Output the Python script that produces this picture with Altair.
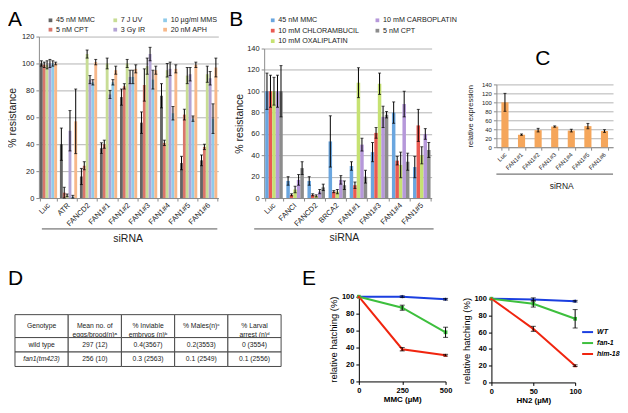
import altair as alt
import pandas as pd

FONT = "Liberation Sans"
TXT = "#222222"
GRID = "#b4b4b4"
AXC = "#8c8c8c"

# ---------------- Panel A ----------------
a_groups = ["Luc", "ATR", "FANCD2", "FAN1#1", "FAN1#2", "FAN1#3", "FAN1#4", "FAN1#5", "FAN1#6"]
a_series = ["45 nM MMC", "5 nM CPT", "7 J UV", "3 Gy IR", "10 µg/ml MMS", "20 nM APH"]
a_colors = ["#646464", "#d9776c", "#c8dd95", "#b3a3d5", "#8fcbea", "#f7b88a"]
a_mmc = [100, 40, 16, 37, 75, 56, 76, 26, 28]
a_mmc_err = [2, 12, 6, 4, 6, 8, 9, 5, 4]
a_cpt = [99, 4, 24, 40, 83, 84, 41, 62, 38]
a_cpt_err = [2, 4, 3, 3, 2, 12, 2, 4, 2]
a_uv = [99, 2, 107, 100, 100, 98, 95, 91, 92]
a_uv_err = [3, 1, 3, 4, 3, 6, 5, 6, 6]
a_ir = [100, 50, 88, 77, 90, 107, 96, 92, 89]
a_ir_err = [3, 15, 3, 3, 5, 5, 5, 5, 5]
a_mms = [100, 1, 86, 86, 90, 88, 63, 59, 59]
a_mms_err = [2, 1, 2, 2, 5, 7, 5, 2, 11]
a_aph = [100, 57, 101, 95, 96, 95, 96, 99, 97]
a_aph_err = [1, 24, 2, 3, 3, 3, 3, 2, 7]

# ---------------- Panel B ----------------
b_groups = ["Luc", "FANCI", "FANCD2", "BRCA2", "FAN1#1", "FAN1#3", "FAN1#4", "FAN1#5"]
b_series = ["45 nM MMC", "10 mM CHLORAMBUCIL", "10 mM OXALIPLATIN", "10 mM CARBOPLATIN", "5 nM CPT"]
b_colors = ["#6aa6df", "#ea5a52", "#c6e272", "#b698da", "#8c8c8c"]
b_mmc = [100, 16, 16, 53, 30, 43, 80, 29]
b_mmc_err = [17, 4, 4, 24, 4, 9, 10, 10]
b_chl = [100, 3, 3, 6, 12, 61, 35, 68]
b_chl_err = [15, 1, 1, 1, 3, 5, 4, 15]
b_oxa = [100, 8, 2, 6, 108, 107, 31, 40]
b_oxa_err = [13, 3, 1, 2, 14, 10, 12, 8]
b_carbo = [100, 17, 6, 17, 50, 76, 88, 60]
b_carbo_err = [15, 5, 2, 4, 6, 10, 12, 5]
b_cpt = [100, 28, 10, 12, 20, 78, 34, 45]
b_cpt_err = [24, 6, 3, 4, 6, 3, 8, 7]

# ---------------- Panel C ----------------
c_groups = ["Luc", "FAN1#1", "FAN1#2", "FAN1#3", "FAN1#4", "FAN1#5", "FAN1#6"]
c_values = [100, 28, 38, 46, 37, 47, 36]
c_errors = [20, 1.5, 4, 1.5, 3, 6, 3]

# ---------------- Panel D ----------------
d_header = ["Genotype", "Mean no. of\neggs/brood(n)ᵃ", "% Inviable\nembryos (n)ᵇ",
            "% Males(n)ᶜ", "% Larval\narrest (n)ᵈ"]
d_rows = ["wild type", "fan1(tm423)"]
d_wild = ["wild type", "297 (12)", "0.4(3567)", "0.2(3553)", "0 (3554)"]
d_fan1 = ["fan1(tm423)", "256 (10)", "0.3 (2563)", "0.1 (2549)", "0.1 (2556)"]

# ---------------- Panel E ----------------
e_strains = ["WT", "fan-1", "him-18"]
e_colors = ["#1b3fe0", "#3dbf3d", "#f0250f"]
e_shapes = ["diamond", "square", "triangle-up"]
e1_dose = [0, 250, 500]
e1_wt = [100, 100, 97]
e1_wt_err = [0, 1, 1]
e1_fan1 = [100, 87, 58]
e1_fan1_err = [0, 3, 6]
e1_him18 = [100, 38, 31]
e1_him18_err = [0, 2, 1]
e2_dose = [0, 50, 100]
e2_wt = [100, 99, 97]
e2_wt_err = [0, 2, 1]
e2_fan1 = [100, 94, 76]
e2_fan1_err = [0, 4, 11]
e2_him18 = [100, 64, 20]
e2_him18_err = [0, 3, 1]


def long_table(groups, series, values, errors):
    rows = []
    for s, vals, errs in zip(series, values, errors):
        for g, v, e in zip(groups, vals, errs):
            rows.append({"group": g, "series": s, "value": v,
                         "lo": max(v - e, 0), "hi": v + e})
    return pd.DataFrame(rows)


def one_row():
    return pd.DataFrame({"k": [0]})


def letter(ch, x, y):
    return alt.Chart(one_row()).mark_text(
        text=ch, fontSize=21, font=FONT, align="left", baseline="alphabetic", color="black"
    ).encode(x=alt.value(x), y=alt.value(y))


def hline(x1, x2, y):
    return alt.Chart(one_row()).mark_rule(color="#555555", strokeWidth=1).encode(
        x=alt.value(x1), x2=alt.value(x2), y=alt.value(y))


def spacer(w, h):
    return alt.Chart(one_row()).mark_point(opacity=0).encode(
        x=alt.X("k:Q", axis=None), y=alt.Y("k:Q", axis=None)
    ).properties(width=w, height=h)


def bar_panel(df, groups, series, color_map, width, height, top, ymax,
              pinner, pouter, legend, ytitle, ytitle_x, ytitle_size, sirna_x, sirna_y,
              label_size, sirna_size, extra_layers):
    x = alt.X("group:N", sort=groups, title="siRNA",
              scale=alt.Scale(paddingInner=pinner, paddingOuter=pouter),
              axis=alt.Axis(labelAngle=-45, labelAlign="right", labelBaseline="middle",
                            labelFontSize=label_size, labelColor=TXT, labelPadding=3,
                            labelOverlap=False, tickBand="extent", tickSize=3,
                            tickColor=AXC, domainColor=AXC,
                            titleFontSize=sirna_size, titleFontWeight="normal",
                            titleColor=TXT, titleX=sirna_x, titleY=sirna_y,
                            titleBaseline="alphabetic"))
    xo = alt.XOffset("series:N", sort=series, scale=alt.Scale(paddingInner=0, paddingOuter=0))

    def yenc(field):
        return alt.Y(field, title=ytitle,
                     scale=alt.Scale(domain=[0, ymax], nice=False, range=[height, top]),
                     axis=alt.Axis(values=list(range(0, ymax + 1, 20)), grid=True,
                                   gridColor=GRID, domainColor=AXC, tickColor=AXC,
                                   tickSize=3, labelPadding=2, labelFontSize=label_size,
                                   labelColor=TXT, titleFontSize=ytitle_size,
                                   titleFontWeight="normal", titleColor=TXT,
                                   titleX=ytitle_x, titleY=(height + top) / 2,
                                   titleBaseline="middle"))

    color = alt.Color("series:N",
                      scale=alt.Scale(domain=series, range=[color_map[s] for s in series]),
                      legend=legend)
    base = alt.Chart(df)
    bars = base.mark_bar().encode(x=x, xOffset=xo, y=yenc("value:Q"), color=color)
    rules = base.mark_rule(color="black", strokeWidth=1).encode(
        x=x, xOffset=xo, y=yenc("lo:Q"), y2=alt.Y2("hi:Q"))
    cap_hi = base.mark_tick(color="black", size=3, thickness=1).encode(
        x=x, xOffset=xo, y=yenc("hi:Q"))
    cap_lo = base.mark_tick(color="black", size=3, thickness=1).encode(
        x=x, xOffset=xo, y=yenc("lo:Q"))
    return alt.layer(bars, rules, cap_hi, cap_lo, *extra_layers).properties(
        width=width, height=height)


def legend_box(x, y, cols, row_pad, col_pad):
    return alt.Legend(orient="none", legendX=x, legendY=y, columns=cols, title=None,
                      symbolType="square", symbolSize=14, symbolStrokeWidth=0,
                      labelFontSize=7.2, labelFont=FONT, labelColor=TXT,
                      rowPadding=row_pad, columnPadding=col_pad, gridAlign="each",
                      labelOffset=2, padding=0)


# Panel A chart
a_df = long_table(a_groups, a_series,
                  [a_mmc, a_cpt, a_uv, a_ir, a_mms, a_aph],
                  [a_mmc_err, a_cpt_err, a_uv_err, a_ir_err, a_mms_err, a_aph_err])
A = bar_panel(a_df, a_groups, a_series, dict(zip(a_series, a_colors)),
              180, 162, 0, 120, 0.14, 0.05, legend_box(8, -20, 3, 1.5, 16), "% resistance",
              -26, 10.5, 89, 44, 7.5, 10.5,
              [letter("A", -31, -11), hline(3, 179, 193)])

# Panel B chart
b_df = long_table(b_groups, b_series,
                  [b_mmc, b_chl, b_oxa, b_carbo, b_cpt],
                  [b_mmc_err, b_chl_err, b_oxa_err, b_carbo_err, b_cpt_err])
B = bar_panel(b_df, b_groups, b_series, dict(zip(b_series, b_colors)),
              168, 162, 12, 140, 0.17, 0.05, legend_box(5, -20, 2, 2.5, 14), "% resistance",
              -25, 10.5, 80, 43, 7.5, 10.5,
              [letter("B", -35, -11), hline(-10, 170, 193)])

# Panel C chart
c_df = long_table(c_groups, ["expr"], [c_values], [c_errors])
C = bar_panel(c_df, c_groups, ["expr"], {"expr": "#f5a65b"},
              117, 111, 48, 140, 0.57, 0.3, None, "relative expression",
              -26, 7.5, 65, 41, 6, 8.5,
              [letter("C", 39, 29), hline(0, 117, 138)])

# Panel D table
d_head_df = pd.DataFrame({"col": list(range(5)), "txt": d_header, "h": ["head"] * 5})
d_body_rows = []
for ri, (rname, cells) in enumerate(zip(d_rows, [d_wild, d_fan1])):
    for ci, t in enumerate(cells):
        d_body_rows.append({"row": rname, "col": ci, "txt": t,
                            "it": 1 if (ri == 1 and ci == 0) else 0})
d_body_df = pd.DataFrame(d_body_rows)

d_x = alt.X("col:O", axis=None, scale=alt.Scale(paddingInner=0, paddingOuter=0))
d_hy = alt.Y("h:N", axis=None, scale=alt.Scale(range=[18, 41], paddingInner=0, paddingOuter=0))
d_by = alt.Y("row:N", sort=d_rows, axis=None,
             scale=alt.Scale(domain=d_rows, range=[41, 70], paddingInner=0, paddingOuter=0))
d_head_rect = alt.Chart(d_head_df).mark_rect(fill="white", stroke="#4a4a4a", strokeWidth=1).encode(
    x=d_x, y=d_hy)
d_head_txt = alt.Chart(d_head_df).mark_text(fontSize=6.8, font=FONT, color=TXT,
                                             lineBreak="\n", baseline="middle").encode(
    x=d_x, y=d_hy, text="txt:N")
d_body_rect = alt.Chart(d_body_df).mark_rect(fill="white", stroke="#4a4a4a", strokeWidth=1).encode(
    x=d_x, y=d_by)
d_body_txt = alt.Chart(d_body_df).transform_filter("datum.it == 0").mark_text(
    fontSize=6.8, font=FONT, color=TXT, baseline="middle").encode(x=d_x, y=d_by, text="txt:N")
d_body_it = alt.Chart(d_body_df).transform_filter("datum.it == 1").mark_text(
    fontSize=6.8, font=FONT, color=TXT, baseline="middle", fontStyle="italic").encode(
    x=d_x, y=d_by, text="txt:N")
D = alt.layer(d_head_rect, d_head_txt, d_body_rect, d_body_txt, d_body_it,
              letter("D", -7, -12)).resolve_scale(y="independent").properties(width=267, height=70)


# Panel E charts
def e_table(dose, vals, errs):
    rows = []
    for s, v, e in zip(e_strains, vals, errs):
        for d, vv, ee in zip(dose, v, e):
            rows.append({"strain": s, "dose": d, "value": vv,
                         "lo": vv - ee, "hi": vv + ee, "err": ee})
    return pd.DataFrame(rows)


def e_panel(df, dose, width, height, top, xtitle, legend, extra):
    x = alt.X("dose:Q", scale=alt.Scale(domain=[dose[0], dose[-1]], nice=False, zero=False),
              axis=alt.Axis(values=dose, title=xtitle, titleFontWeight="bold", titleFontSize=8,
                            titleColor="black", labelFontWeight="bold", labelFontSize=7.5,
                            labelColor="black", domainColor="black", tickColor="black",
                            tickSize=3, labelPadding=2, titlePadding=2, grid=False,
                            labelFlush=False))

    def yenc(field):
        return alt.Y(field, title="relative hatching (%)",
                     scale=alt.Scale(domain=[0, 100], nice=False, range=[height, top]),
                     axis=alt.Axis(values=[0, 20, 40, 60, 80, 100], grid=False,
                                   labelFontWeight="bold", labelFontSize=7.5,
                                   labelColor="black", domainColor="black",
                                   tickColor="black", tickSize=3, labelPadding=2,
                                   titleFontSize=9.5, titleFontWeight="normal",
                                   titleColor="black", titleX=-25, titleY=(height + top) / 2,
                                   titleBaseline="middle"))

    color = alt.Color("strain:N", scale=alt.Scale(domain=e_strains, range=e_colors),
                      legend=legend)
    base = alt.Chart(df)
    lines = base.mark_line(strokeWidth=2).encode(x=x, y=yenc("value:Q"), color=color)
    layers = [lines]
    for s, c, shp in zip(e_strains, e_colors, e_shapes):
        layers.append(base.transform_filter(alt.datum.strain == s).mark_point(
            filled=True, size=14, opacity=1, shape=shp, color=c).encode(
            x=x, y=yenc("value:Q")))
    errs = base.transform_filter("datum.err > 0").mark_errorbar(
        ticks=True, color="black", thickness=1).encode(
        x=x, y=yenc("lo:Q"), y2=alt.Y2("hi:Q"))
    layers.append(errs)
    return alt.layer(*layers, *extra).properties(width=width, height=height)


e_legend = alt.Legend(orient="none", legendX=90, legendY=29, title=None,
                      symbolType="stroke", symbolSize=120, symbolStrokeWidth=2,
                      labelFontSize=7, labelFontWeight="bold", labelFontStyle="italic",
                      labelColor="black", labelFont=FONT, rowPadding=-1, labelOffset=3,
                      padding=0)

E1 = e_panel(e_table(e1_dose, [e1_wt, e1_fan1, e1_him18], [e1_wt_err, e1_fan1_err, e1_him18_err]),
             e1_dose, 87, 85, 0, "MMC (µM)", None, [letter("E", -57, -12)])
E2 = e_panel(e_table(e2_dose, [e2_wt, e2_fan1, e2_him18], [e2_wt_err, e2_fan1_err, e2_him18_err]),
             e2_dose, 84, 86, 2, "HN2 (µM)", e_legend, [])

top_row = alt.hconcat(
    spacer(24, 162), A, spacer(46, 162), B, spacer(65, 162), C,
    spacing=0, bounds="flush"
).resolve_scale(color="independent", xOffset="independent")

bottom_row = alt.hconcat(
    D, spacer(78, 10), E1, spacer(46, 10), E2,
    spacing=0, bounds="flush"
).resolve_scale(color="independent")

chart = alt.vconcat(
    top_row, bottom_row, spacing=23, bounds="full"
).resolve_scale(
    color="independent", xOffset="independent"
).properties(
    padding=0, background="white"
).configure(font=FONT).configure_view(strokeWidth=0)

chart.save("out.html", embed_options={"renderer": "svg", "actions": False})
